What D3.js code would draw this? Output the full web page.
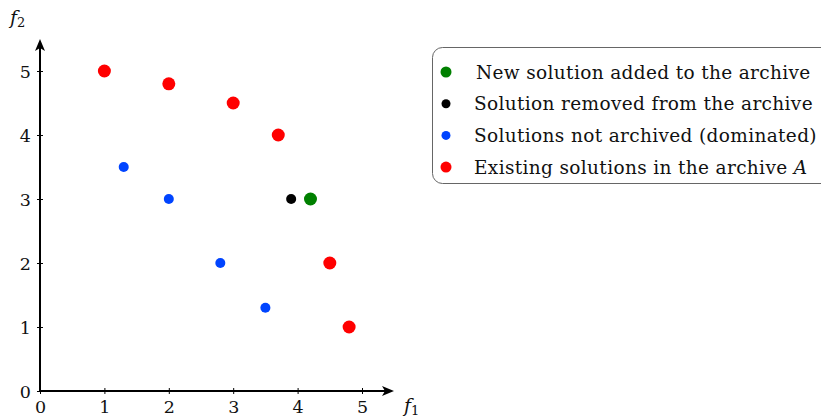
<!DOCTYPE html>
<html>
<head>
<meta charset="utf-8">
<script src="https://cdn.jsdelivr.net/npm/d3@7"></script>
<style>
	body { margin: 0; background: #fff; }
	text { font-family: "DejaVu Serif", "Liberation Serif", serif; fill: #111; }
</style>
</head>
<body>
<svg id="viz"></svg>
<script>

	// the data
	var xTicks = [0, 1, 2, 3, 4, 5];
	var yTicks = [0, 1, 2, 3, 4, 5];

	var archiveX = [1, 2, 3, 3.7, 4.5, 4.8];
	var archiveY = [5, 4.8, 4.5, 4, 2, 1];

	var dominatedX = [1.3, 2, 2.8, 3.5];
	var dominatedY = [3.5, 3, 2, 1.3];

	var removedX = [3.9];
	var removedY = [3];

	var addedX = [4.2];
	var addedY = [3];

	var legendLabels = [
		"New solution added to the archive",
		"Solution removed from the archive",
		"Solutions not archived (dominated)",
		"Existing solutions in the archive "
	];
	var legendColors = ["#008000", "#000000", "#0044ff", "#ff0000"];
	var legendRadius = [5.5, 4.5, 4.5, 5.5];



	// set up the svg
	var w = 821;
	var h = 420;
	var viz = d3.select("#viz").attr("width", w).attr("height", h);

	var x = d3.scaleLinear().domain([0, 5]).range([40, 362]);
	var y = d3.scaleLinear().domain([0, 5]).range([391, 71]);



	// axes
	var xAxis = viz.append("g").attr("transform", "translate(0," + y(0) + ")")
		.call(d3.axisBottom(x).tickValues(xTicks).tickSize(3).tickFormat(d3.format("d")));
	var yAxis = viz.append("g").attr("transform", "translate(" + x(0) + ",0)")
		.call(d3.axisLeft(y).tickValues(yTicks).tickSize(3).tickFormat(d3.format("d")));

	[xAxis, yAxis].forEach(function(g) {
		g.attr("font-size", 17.5);
		g.select(".domain").remove();
		g.selectAll(".tick line").attr("stroke", "#000").attr("stroke-width", 1);
		g.selectAll(".tick text").attr("fill", "#111");
	});
	xAxis.selectAll(".tick line").attr("y1", -3).attr("y2", 3);
	xAxis.selectAll(".tick text").attr("y", 9).attr("dy", "0.76em");
	yAxis.selectAll(".tick line").attr("x1", -3).attr("x2", 3);
	yAxis.selectAll(".tick text").attr("x", -9).attr("dy", "0.36em");

	// axis lines with arrow heads
	viz.append("line")
		.attr("x1", x(0)).attr("x2", 388).attr("y1", y(0)).attr("y2", y(0))
		.attr("stroke", "#000").attr("stroke-width", 2);
	viz.append("path")
		.attr("d", "M394," + y(0) + " L382," + (y(0) - 5) + " L385," + y(0) + " L382," + (y(0) + 5) + " Z")
		.attr("fill", "#000");
	viz.append("line")
		.attr("x1", x(0)).attr("x2", x(0)).attr("y1", y(0)).attr("y2", 46)
		.attr("stroke", "#000").attr("stroke-width", 2);
	viz.append("path")
		.attr("d", "M" + x(0) + ",39 L" + (x(0) - 5) + ",51 L" + x(0) + ",48 L" + (x(0) + 5) + ",51 Z")
		.attr("fill", "#000");

	// axis titles
	var f1 = viz.append("text").attr("x", 404).attr("y", 412).attr("font-size", 19);
	f1.append("tspan").attr("font-style", "italic").text("f");
	f1.append("tspan").attr("font-size", 13).attr("dy", 3).text("1");
	var f2 = viz.append("text").attr("x", 10).attr("y", 24).attr("font-size", 19);
	f2.append("tspan").attr("font-style", "italic").text("f");
	f2.append("tspan").attr("font-size", 13).attr("dy", 3).text("2");



	// draw the points
	function drawPoints(xs, ys, color, r) {
		viz.append("g").selectAll("circle")
			.data(xs)
			.enter()
			.append("circle")
			.attr("cx", function(d) { return x(d); })
			.attr("cy", function(d, i) { return y(ys[i]); })
			.attr("r", r)
			.attr("fill", color);
	}
	drawPoints(dominatedX, dominatedY, legendColors[2], 5);
	drawPoints(archiveX, archiveY, legendColors[3], 6.5);
	drawPoints(removedX, removedY, legendColors[1], 5);
	drawPoints(addedX, addedY, legendColors[0], 6.5);



	// legend
	var legend = viz.append("g");
	legend.append("rect")
		.attr("x", 432.5).attr("y", 47.5).attr("width", 420).attr("height", 136)
		.attr("rx", 10).attr("fill", "#fff").attr("stroke", "#666").attr("stroke-width", 1);

	var rows = legend.selectAll("g.row")
		.data(legendLabels)
		.enter()
		.append("g")
		.attr("transform", function(d, i) { return "translate(0," + (72 + i * 31.7) + ")"; });
	rows.append("circle")
		.attr("cx", 446)
		.attr("r", function(d, i) { return legendRadius[i]; })
		.attr("fill", function(d, i) { return legendColors[i]; });
	var labels = rows.append("text")
		.attr("x", function(d, i) { return i == 0 ? 476 : 474; })
		.attr("dy", "0.36em")
		.attr("font-size", 18.5)
		.attr("letter-spacing", 0.35)
		.text(function(d) { return d; });
	labels.filter(function(d, i) { return i == 3; })
		.append("tspan").attr("font-style", "italic").text("A");

</script>
</body>
</html>
